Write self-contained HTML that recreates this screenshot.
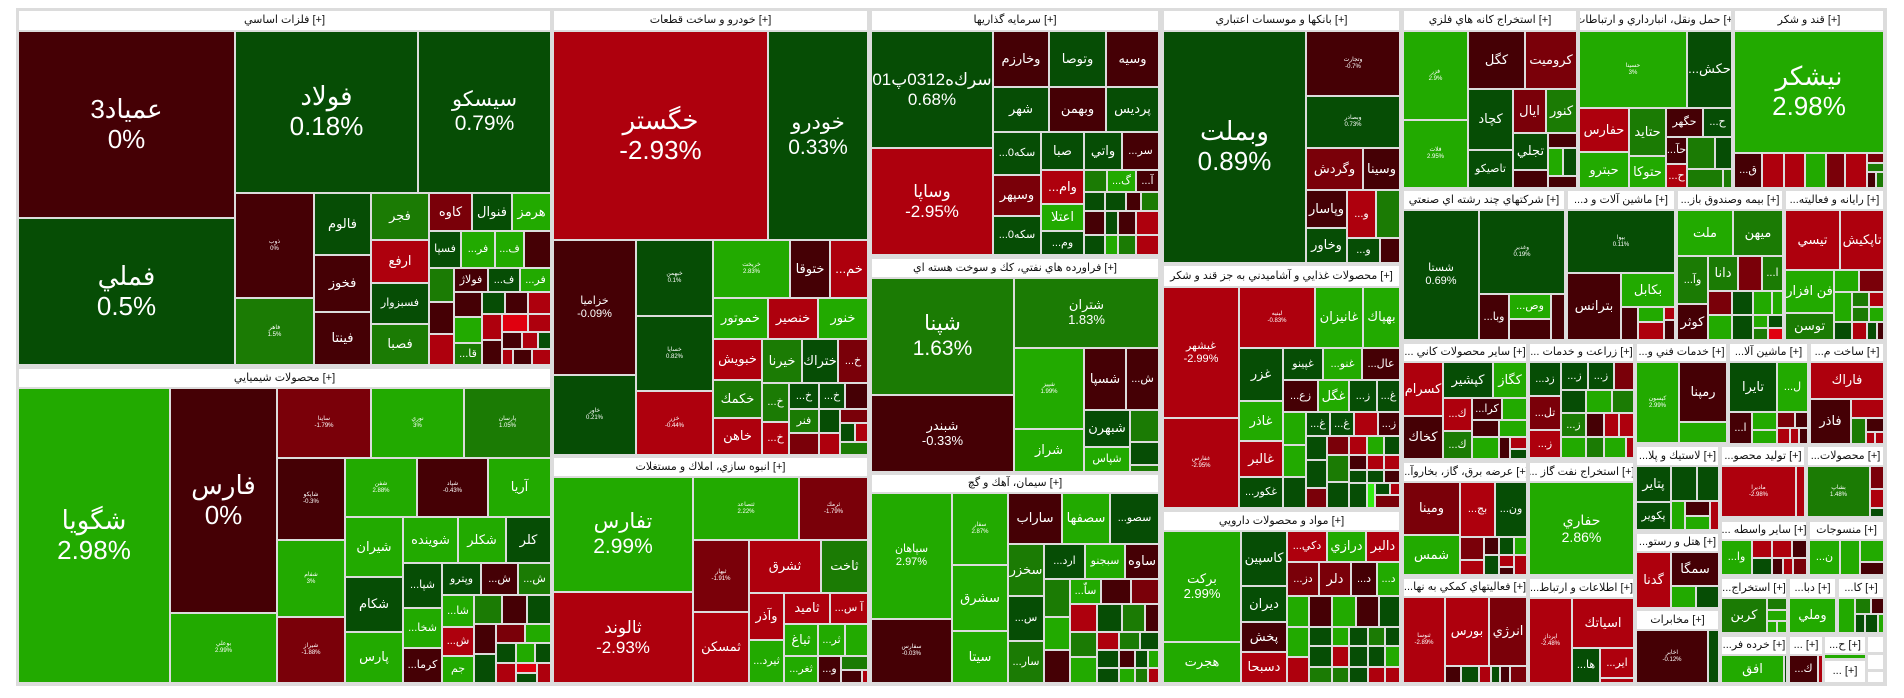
<!DOCTYPE html>
<html><head><meta charset="utf-8">
<style>
html,body{margin:0;padding:0;background:#fff;width:1904px;height:698px;overflow:hidden}
#w{position:absolute;left:16px;top:8px;width:1871px;height:678px;background:#dcdcdc}
div.c,div.h{position:absolute;box-sizing:border-box;border:1px solid #dcdcdc;display:flex;align-items:center;justify-content:center;text-align:center;overflow:hidden;white-space:nowrap;font-family:"Liberation Sans","DejaVu Sans",sans-serif;line-height:1.15}
div.c{color:#fff;font-size:13px}
div.h{background:#fff;color:#111;font-size:11px}
.a{background:#064d05}.b{background:#1b7b04}.g{background:#22aa00}.d{background:#450005}.m{background:#7a0009}.r{background:#ae000d}.x{background:#e0000f}.y{background:#33ee11}
.t{font-size:6px!important}.s{font-size:11px!important}.L{font-size:26px!important}.M{font-size:21px!important}.N{font-size:17px!important}
</style></head><body>
<div id="w"></div>
<!-- فلزات -->
<div class="h" style="left:18px;top:10px;width:533px;height:21px">فلزات اساسي [+]</div>
<div class="c d L" style="left:18px;top:31px;width:217px;height:187px">عمياد3<br>0%</div>
<div class="c a L" style="left:18px;top:218px;width:217px;height:147px">فملي<br>0.5%</div>
<div class="c a L" style="left:235px;top:31px;width:183px;height:162px">فولاد<br>0.18%</div>
<div class="c a M" style="left:418px;top:31px;width:133px;height:162px">سيسكو<br>0.79%</div>
<div class="c d t" style="left:235px;top:193px;width:79px;height:105px">ذوب<br>0%</div>
<div class="c b t" style="left:235px;top:298px;width:79px;height:67px">فاهر<br>1.5%</div>
<div class="c a" style="left:314px;top:193px;width:57px;height:62px">فالوم</div>
<div class="c d" style="left:314px;top:255px;width:57px;height:57px">فخوز</div>
<div class="c d" style="left:314px;top:312px;width:57px;height:53px">فينتا</div>
<div class="c b" style="left:371px;top:193px;width:58px;height:47px">فجر</div>
<div class="c r" style="left:371px;top:240px;width:58px;height:43px">ارفع</div>
<div class="c a s" style="left:371px;top:283px;width:58px;height:41px">فسبزوار</div>
<div class="c b" style="left:371px;top:324px;width:58px;height:41px">فصبا</div>
<div class="c m" style="left:429px;top:193px;width:43px;height:38px">كاوه</div>
<div class="c a" style="left:472px;top:193px;width:40px;height:38px">فنوال</div>
<div class="c g" style="left:512px;top:193px;width:39px;height:38px">هرمز</div>
<div class="c a s" style="left:429px;top:231px;width:32px;height:37px">فسپا</div>
<div class="c g s" style="left:461px;top:231px;width:34px;height:37px">...فر</div>
<div class="c g s" style="left:495px;top:231px;width:29px;height:37px">...ف</div>
<div class="c d" style="left:524px;top:231px;width:27px;height:37px"></div>
<div class="c b" style="left:429px;top:268px;width:25px;height:34px"></div>
<div class="c d" style="left:429px;top:302px;width:25px;height:32px"></div>
<div class="c r" style="left:429px;top:334px;width:25px;height:31px"></div>
<div class="c d s" style="left:454px;top:268px;width:34px;height:24px">فولاژ</div>
<div class="c a s" style="left:488px;top:268px;width:32px;height:24px">...ف</div>
<div class="c g s" style="left:520px;top:268px;width:31px;height:24px">...فر</div>
<div class="c d" style="left:454px;top:292px;width:28px;height:25px"></div>
<div class="c a" style="left:482px;top:292px;width:23px;height:22px"></div>
<div class="c d" style="left:505px;top:292px;width:23px;height:22px"></div>
<div class="c r" style="left:528px;top:292px;width:23px;height:22px"></div>
<div class="c g" style="left:454px;top:317px;width:28px;height:26px"></div>
<div class="c b s" style="left:454px;top:343px;width:28px;height:22px">...قا</div>
<div class="c r" style="left:482px;top:314px;width:20px;height:26px"></div>
<div class="c d" style="left:482px;top:340px;width:20px;height:25px"></div>
<div class="c x" style="left:502px;top:314px;width:26px;height:18px"></div>
<div class="c r" style="left:528px;top:314px;width:23px;height:18px"></div>
<div class="c d" style="left:502px;top:332px;width:20px;height:17px"></div>
<div class="c r" style="left:522px;top:332px;width:16px;height:17px"></div>
<div class="c a" style="left:538px;top:332px;width:13px;height:17px"></div>
<div class="c r" style="left:502px;top:349px;width:11px;height:16px"></div>
<div class="c d" style="left:513px;top:349px;width:19px;height:16px"></div>
<div class="c r" style="left:532px;top:349px;width:19px;height:16px"></div>
<!-- شیمیایی -->
<div class="h" style="left:18px;top:368px;width:533px;height:20px">محصولات شيميايي [+]</div>
<div class="c g L" style="left:18px;top:388px;width:152px;height:295px">شگويا<br>2.98%</div>
<div class="c d L" style="left:170px;top:388px;width:107px;height:225px">فارس<br>0%</div>
<div class="c g t" style="left:170px;top:613px;width:107px;height:70px">بوعلي<br>2.99%</div>
<div class="c m t" style="left:277px;top:388px;width:94px;height:70px">ساينا<br>-1.79%</div>
<div class="c g t" style="left:371px;top:388px;width:93px;height:70px">نوري<br>3%</div>
<div class="c b t" style="left:464px;top:388px;width:87px;height:70px">پارسان<br>1.05%</div>
<div class="c d t" style="left:277px;top:458px;width:68px;height:82px">شاپكو<br>-0.3%</div>
<div class="c g t" style="left:277px;top:540px;width:68px;height:77px">شفام<br>3%</div>
<div class="c m t" style="left:277px;top:617px;width:68px;height:66px">شيراز<br>-1.88%</div>
<div class="c g t" style="left:345px;top:458px;width:72px;height:59px">شفن<br>2.88%</div>
<div class="c d t" style="left:417px;top:458px;width:71px;height:59px">شپاد<br>-0.43%</div>
<div class="c g" style="left:488px;top:458px;width:63px;height:59px">آريا</div>
<div class="c g" style="left:345px;top:517px;width:58px;height:60px">شيران</div>
<div class="c a" style="left:345px;top:577px;width:58px;height:55px">شكام</div>
<div class="c g" style="left:345px;top:632px;width:58px;height:51px">پارس</div>
<div class="c g" style="left:403px;top:517px;width:55px;height:46px">شوينده</div>
<div class="c g" style="left:458px;top:517px;width:48px;height:46px">شكلر</div>
<div class="c a" style="left:506px;top:517px;width:45px;height:46px">كلر</div>
<div class="c a s" style="left:403px;top:563px;width:39px;height:45px">...شپا</div>
<div class="c g s" style="left:403px;top:608px;width:39px;height:40px">...شخا</div>
<div class="c d s" style="left:403px;top:648px;width:39px;height:35px">...كرما</div>
<div class="c a s" style="left:442px;top:563px;width:39px;height:32px">وپترو</div>
<div class="c d s" style="left:481px;top:563px;width:37px;height:32px">...ش</div>
<div class="c b s" style="left:518px;top:563px;width:33px;height:32px">...ش</div>
<div class="c g s" style="left:442px;top:595px;width:32px;height:32px">...شا</div>
<div class="c r s" style="left:442px;top:627px;width:32px;height:29px">...ش</div>
<div class="c g s" style="left:442px;top:656px;width:32px;height:27px">جم</div>
<div class="c b" style="left:474px;top:595px;width:28px;height:29px"></div>
<div class="c d" style="left:502px;top:595px;width:25px;height:29px"></div>
<div class="c a" style="left:527px;top:595px;width:24px;height:29px"></div>
<div class="c d" style="left:474px;top:624px;width:22px;height:30px"></div>
<div class="c m" style="left:496px;top:624px;width:29px;height:19px"></div>
<div class="c g" style="left:525px;top:624px;width:26px;height:19px"></div>
<div class="c a" style="left:474px;top:654px;width:22px;height:29px"></div>
<div class="c a" style="left:496px;top:643px;width:20px;height:20px"></div>
<div class="c g" style="left:516px;top:643px;width:19px;height:20px"></div>
<div class="c a" style="left:535px;top:643px;width:16px;height:20px"></div>
<div class="c r" style="left:496px;top:663px;width:20px;height:20px"></div>
<div class="c x" style="left:516px;top:663px;width:21px;height:10px"></div>
<div class="c a" style="left:516px;top:673px;width:21px;height:10px"></div>
<div class="c r" style="left:537px;top:663px;width:14px;height:20px"></div>
<!-- خودرو -->
<div class="h" style="left:553px;top:10px;width:315px;height:21px">خودرو و ساخت قطعات [+]</div>
<div class="c r L" style="left:553px;top:31px;width:215px;height:209px">خگستر<br>-2.93%</div>
<div class="c a M" style="left:768px;top:31px;width:100px;height:209px">خودرو<br>0.33%</div>
<div class="c d s" style="left:553px;top:240px;width:83px;height:135px">خزاميا<br>-0.09%</div>
<div class="c a t" style="left:553px;top:375px;width:83px;height:80px">خاور<br>0.21%</div>
<div class="c a t" style="left:636px;top:240px;width:77px;height:76px">خبهمن<br>0.1%</div>
<div class="c a t" style="left:636px;top:316px;width:77px;height:75px">خساپا<br>0.82%</div>
<div class="c r t" style="left:636px;top:391px;width:77px;height:64px">خزر<br>-0.44%</div>
<div class="c g t" style="left:713px;top:240px;width:77px;height:58px">خريخت<br>2.83%</div>
<div class="c d" style="left:790px;top:240px;width:40px;height:58px">ختوقا</div>
<div class="c r" style="left:830px;top:240px;width:38px;height:58px">...خم</div>
<div class="c g" style="left:713px;top:298px;width:55px;height:41px">خموتور</div>
<div class="c r" style="left:768px;top:298px;width:50px;height:41px">خنصير</div>
<div class="c g" style="left:818px;top:298px;width:50px;height:41px">خنور</div>
<div class="c r" style="left:713px;top:339px;width:49px;height:41px">خبويش</div>
<div class="c b" style="left:713px;top:380px;width:49px;height:38px">خكمك</div>
<div class="c r" style="left:713px;top:418px;width:49px;height:37px">خاهن</div>
<div class="c b" style="left:762px;top:339px;width:40px;height:44px">خيرنا</div>
<div class="c a" style="left:802px;top:339px;width:36px;height:44px">ختراك</div>
<div class="c m s" style="left:838px;top:339px;width:30px;height:44px">...خ</div>
<div class="c b s" style="left:762px;top:383px;width:27px;height:39px">...خ</div>
<div class="c r s" style="left:762px;top:422px;width:27px;height:33px">...خ</div>
<div class="c a s" style="left:789px;top:383px;width:30px;height:26px">...خ</div>
<div class="c b s" style="left:789px;top:409px;width:30px;height:24px">فنر</div>
<div class="c m" style="left:789px;top:433px;width:30px;height:22px"></div>
<div class="c a s" style="left:819px;top:383px;width:26px;height:26px">...خ</div>
<div class="c d" style="left:845px;top:383px;width:23px;height:26px"></div>
<div class="c a" style="left:819px;top:409px;width:21px;height:24px"></div>
<div class="c m" style="left:840px;top:409px;width:28px;height:14px"></div>
<div class="c a" style="left:840px;top:423px;width:15px;height:19px"></div>
<div class="c r" style="left:855px;top:423px;width:13px;height:19px"></div>
<div class="c r" style="left:819px;top:433px;width:21px;height:22px"></div>
<div class="c b" style="left:840px;top:442px;width:28px;height:13px"></div>
<!-- انبوه -->
<div class="h" style="left:553px;top:457px;width:315px;height:20px">انبوه سازي، املاك و مستغلات [+]</div>
<div class="c g M" style="left:553px;top:477px;width:140px;height:115px">تفارس<br>2.99%</div>
<div class="c r N" style="left:553px;top:592px;width:140px;height:91px">ثالوند<br>-2.93%</div>
<div class="c g t" style="left:693px;top:477px;width:106px;height:63px">ثتصاعد<br>2.22%</div>
<div class="c m t" style="left:799px;top:477px;width:69px;height:63px">ثرمك<br>-1.79%</div>
<div class="c m t" style="left:693px;top:540px;width:56px;height:72px">ثبهار<br>-1.91%</div>
<div class="c r" style="left:693px;top:612px;width:56px;height:71px">ثمسكن</div>
<div class="c r" style="left:749px;top:540px;width:72px;height:53px">ثشرق</div>
<div class="c b" style="left:821px;top:540px;width:47px;height:53px">ثاخت</div>
<div class="c r" style="left:749px;top:593px;width:35px;height:47px">وآذر</div>
<div class="c g s" style="left:749px;top:640px;width:35px;height:43px">...ثيرد</div>
<div class="c r" style="left:784px;top:593px;width:46px;height:31px">ثاميد</div>
<div class="c r s" style="left:830px;top:593px;width:38px;height:31px">...آ س</div>
<div class="c g" style="left:784px;top:624px;width:34px;height:32px">ثباغ</div>
<div class="c g s" style="left:784px;top:656px;width:34px;height:27px">...ثغر</div>
<div class="c g s" style="left:818px;top:624px;width:27px;height:32px">...ثر</div>
<div class="c g" style="left:845px;top:624px;width:23px;height:32px"></div>
<div class="c d s" style="left:818px;top:656px;width:23px;height:27px">...و</div>
<div class="c b" style="left:841px;top:656px;width:27px;height:14px"></div>
<div class="c d" style="left:841px;top:670px;width:21px;height:13px"></div>
<div class="c r" style="left:862px;top:670px;width:6px;height:13px"></div>
<!-- سرمایه -->
<div class="h" style="left:871px;top:10px;width:288px;height:21px">سرمايه گذاريها [+]</div>
<div class="c a N" style="left:871px;top:31px;width:122px;height:117px">سرك‌ه0312پ01<br>0.68%</div>
<div class="c r N" style="left:871px;top:148px;width:122px;height:107px">وساپا<br>-2.95%</div>
<div class="c d" style="left:993px;top:31px;width:56px;height:56px">وخارزم</div>
<div class="c a" style="left:1049px;top:31px;width:57px;height:56px">وتوصا</div>
<div class="c d" style="left:1106px;top:31px;width:53px;height:56px">وسيه</div>
<div class="c a" style="left:993px;top:87px;width:56px;height:45px">شهر</div>
<div class="c d" style="left:1049px;top:87px;width:57px;height:45px">وبهمن</div>
<div class="c a" style="left:1106px;top:87px;width:53px;height:45px">پرديس</div>
<div class="c a s" style="left:993px;top:132px;width:48px;height:43px">...سكه0</div>
<div class="c a" style="left:1041px;top:132px;width:43px;height:38px">صبا</div>
<div class="c a" style="left:1084px;top:132px;width:38px;height:38px">واتي</div>
<div class="c d s" style="left:1122px;top:132px;width:37px;height:38px">...سر</div>
<div class="c m" style="left:993px;top:175px;width:48px;height:41px">وسپهر</div>
<div class="c a s" style="left:993px;top:216px;width:48px;height:39px">...سكه0</div>
<div class="c r" style="left:1041px;top:170px;width:43px;height:34px">...وام</div>
<div class="c g" style="left:1041px;top:204px;width:43px;height:27px">اعتلا</div>
<div class="c a s" style="left:1041px;top:231px;width:43px;height:24px">...وم</div>
<div class="c b" style="left:1084px;top:170px;width:23px;height:22px"></div>
<div class="c g s" style="left:1107px;top:170px;width:29px;height:22px">...گ</div>
<div class="c d s" style="left:1136px;top:170px;width:23px;height:22px">...آ</div>
<div class="c a" style="left:1084px;top:192px;width:21px;height:19px"></div>
<div class="c a" style="left:1105px;top:192px;width:21px;height:19px"></div>
<div class="c d" style="left:1126px;top:192px;width:15px;height:19px"></div>
<div class="c b" style="left:1141px;top:192px;width:18px;height:19px"></div>
<div class="c d" style="left:1084px;top:211px;width:21px;height:24px"></div>
<div class="c a" style="left:1105px;top:211px;width:13px;height:24px"></div>
<div class="c d" style="left:1118px;top:211px;width:18px;height:24px"></div>
<div class="c r" style="left:1136px;top:211px;width:23px;height:24px"></div>
<div class="c a" style="left:1084px;top:235px;width:21px;height:20px"></div>
<div class="c g" style="left:1105px;top:235px;width:13px;height:20px"></div>
<div class="c b" style="left:1118px;top:235px;width:18px;height:20px"></div>
<div class="c r" style="left:1136px;top:235px;width:23px;height:20px"></div>
<!-- فراورده -->
<div class="h" style="left:871px;top:258px;width:288px;height:20px">فراورده هاي نفتي، كك و سوخت هسته اي [+]</div>
<div class="c b M" style="left:871px;top:278px;width:143px;height:117px">شپنا<br>1.63%</div>
<div class="c d" style="left:871px;top:395px;width:143px;height:77px">شبندر<br>-0.33%</div>
<div class="c b" style="left:1014px;top:278px;width:145px;height:70px">شتران<br>1.83%</div>
<div class="c g t" style="left:1014px;top:348px;width:70px;height:81px">شپيز<br>1.99%</div>
<div class="c g" style="left:1014px;top:429px;width:70px;height:43px">شراز</div>
<div class="c d" style="left:1084px;top:348px;width:42px;height:62px">شسپا</div>
<div class="c d s" style="left:1126px;top:348px;width:33px;height:62px">...ش</div>
<div class="c a" style="left:1084px;top:410px;width:46px;height:37px">شبهرن</div>
<div class="c g s" style="left:1084px;top:447px;width:46px;height:25px">شپاس</div>
<div class="c b" style="left:1130px;top:410px;width:29px;height:32px"></div>
<div class="c a" style="left:1130px;top:442px;width:29px;height:23px"></div>
<div class="c b" style="left:1130px;top:465px;width:29px;height:7px"></div>
<!-- سیمان -->
<div class="h" style="left:871px;top:474px;width:288px;height:19px">سيمان، آهك و گچ [+]</div>
<div class="c g s" style="left:871px;top:493px;width:81px;height:126px">سپاهان<br>2.97%</div>
<div class="c d t" style="left:871px;top:619px;width:81px;height:64px">سفارس<br>-0.03%</div>
<div class="c g t" style="left:952px;top:493px;width:56px;height:72px">سفار<br>2.87%</div>
<div class="c g" style="left:952px;top:565px;width:56px;height:66px">سشرق</div>
<div class="c g" style="left:952px;top:631px;width:56px;height:52px">سيتا</div>
<div class="c d" style="left:1008px;top:493px;width:54px;height:51px">ساراب</div>
<div class="c g" style="left:1062px;top:493px;width:48px;height:51px">سصفها</div>
<div class="c a s" style="left:1110px;top:493px;width:49px;height:51px">...سصو</div>
<div class="c b" style="left:1008px;top:544px;width:36px;height:52px">سخزر</div>
<div class="c a s" style="left:1008px;top:596px;width:36px;height:45px">...س</div>
<div class="c b s" style="left:1008px;top:641px;width:36px;height:42px">...سار</div>
<div class="c a s" style="left:1044px;top:544px;width:41px;height:35px">...ارد</div>
<div class="c g s" style="left:1085px;top:544px;width:40px;height:35px">سبجنو</div>
<div class="c d" style="left:1125px;top:544px;width:34px;height:35px">ساوه</div>
<div class="c b" style="left:1044px;top:579px;width:26px;height:38px"></div>
<div class="c g" style="left:1044px;top:617px;width:26px;height:33px"></div>
<div class="c d" style="left:1044px;top:650px;width:26px;height:33px"></div>
<div class="c g s" style="left:1070px;top:579px;width:31px;height:25px">...ساّ</div>
<div class="c d" style="left:1101px;top:579px;width:30px;height:25px"></div>
<div class="c m" style="left:1131px;top:579px;width:28px;height:25px"></div>
<div class="c r" style="left:1070px;top:604px;width:27px;height:28px"></div>
<div class="c a" style="left:1097px;top:604px;width:25px;height:28px"></div>
<div class="c b" style="left:1122px;top:604px;width:23px;height:28px"></div>
<div class="c d" style="left:1145px;top:604px;width:14px;height:28px"></div>
<div class="c b" style="left:1070px;top:632px;width:27px;height:25px"></div>
<div class="c r" style="left:1097px;top:632px;width:22px;height:18px"></div>
<div class="c b" style="left:1119px;top:632px;width:21px;height:18px"></div>
<div class="c a" style="left:1140px;top:632px;width:19px;height:18px"></div>
<div class="c g" style="left:1070px;top:657px;width:27px;height:26px"></div>
<div class="c a" style="left:1097px;top:650px;width:22px;height:18px"></div>
<div class="c d" style="left:1119px;top:650px;width:16px;height:18px"></div>
<div class="c a" style="left:1135px;top:650px;width:13px;height:18px"></div>
<div class="c g" style="left:1148px;top:650px;width:11px;height:18px"></div>
<div class="c a" style="left:1097px;top:668px;width:22px;height:15px"></div>
<div class="c g" style="left:1119px;top:668px;width:16px;height:15px"></div>
<div class="c b" style="left:1135px;top:668px;width:13px;height:15px"></div>
<div class="c r" style="left:1148px;top:668px;width:11px;height:15px"></div>
<!-- بانک -->
<div class="h" style="left:1163px;top:10px;width:237px;height:21px">بانكها و موسسات اعتباري [+]</div>
<div class="c a L" style="left:1163px;top:31px;width:143px;height:232px">وبملت<br>0.89%</div>
<div class="c d t" style="left:1306px;top:31px;width:94px;height:65px">وتجارت<br>-0.7%</div>
<div class="c a t" style="left:1306px;top:96px;width:94px;height:52px">وبصادر<br>0.73%</div>
<div class="c m" style="left:1306px;top:148px;width:57px;height:42px">وگردش</div>
<div class="c d" style="left:1363px;top:148px;width:37px;height:42px">وسينا</div>
<div class="c d" style="left:1306px;top:190px;width:41px;height:38px">وپاسار</div>
<div class="c a" style="left:1306px;top:228px;width:41px;height:35px">وخاور</div>
<div class="c r s" style="left:1347px;top:190px;width:29px;height:48px">...و</div>
<div class="c b" style="left:1376px;top:190px;width:24px;height:48px"></div>
<div class="c a s" style="left:1347px;top:238px;width:33px;height:25px">...و</div>
<div class="c d" style="left:1380px;top:238px;width:20px;height:25px"></div>
<!-- غذایی -->
<div class="h" style="left:1163px;top:265px;width:237px;height:22px">محصولات غذايي و آشاميدني به جز قند و شكر [+]</div>
<div class="c r s" style="left:1163px;top:287px;width:76px;height:131px">غبشهر<br>-2.99%</div>
<div class="c r t" style="left:1163px;top:418px;width:76px;height:90px">غفارس<br>-2.95%</div>
<div class="c r t" style="left:1239px;top:287px;width:76px;height:61px">لبنيه<br>-0.83%</div>
<div class="c g" style="left:1315px;top:287px;width:48px;height:61px">غانيزان</div>
<div class="c g" style="left:1363px;top:287px;width:37px;height:61px">بهپاك</div>
<div class="c a" style="left:1239px;top:348px;width:44px;height:53px">غزر</div>
<div class="c g" style="left:1239px;top:401px;width:44px;height:40px">غاذر</div>
<div class="c r" style="left:1239px;top:441px;width:44px;height:36px">غالبر</div>
<div class="c a s" style="left:1239px;top:477px;width:44px;height:31px">...غكور</div>
<div class="c a s" style="left:1283px;top:348px;width:40px;height:32px">غپينو</div>
<div class="c g s" style="left:1323px;top:348px;width:39px;height:32px">...غنو</div>
<div class="c d s" style="left:1362px;top:348px;width:38px;height:32px">...عال</div>
<div class="c d s" style="left:1283px;top:380px;width:35px;height:32px">...زع</div>
<div class="c g" style="left:1318px;top:380px;width:31px;height:32px">غگل</div>
<div class="c a s" style="left:1349px;top:380px;width:28px;height:32px">...ز</div>
<div class="c a s" style="left:1377px;top:380px;width:23px;height:32px">...غ</div>
<div class="c g" style="left:1283px;top:412px;width:23px;height:33px"></div>
<div class="c g" style="left:1283px;top:445px;width:23px;height:32px"></div>
<div class="c a" style="left:1283px;top:477px;width:23px;height:31px"></div>
<div class="c a s" style="left:1306px;top:412px;width:24px;height:24px">...غ</div>
<div class="c a s" style="left:1330px;top:412px;width:24px;height:24px">...غ</div>
<div class="c r" style="left:1354px;top:412px;width:24px;height:24px"></div>
<div class="c d s" style="left:1378px;top:412px;width:22px;height:24px">...ز</div>
<div class="c a" style="left:1306px;top:436px;width:21px;height:24px"></div>
<div class="c m" style="left:1327px;top:436px;width:22px;height:19px"></div>
<div class="c r" style="left:1349px;top:436px;width:18px;height:19px"></div>
<div class="c g" style="left:1367px;top:436px;width:17px;height:19px"></div>
<div class="c a" style="left:1384px;top:436px;width:16px;height:19px"></div>
<div class="c a" style="left:1306px;top:460px;width:21px;height:28px"></div>
<div class="c b" style="left:1327px;top:455px;width:22px;height:27px"></div>
<div class="c d" style="left:1349px;top:455px;width:18px;height:15px"></div>
<div class="c r" style="left:1367px;top:455px;width:17px;height:15px"></div>
<div class="c r" style="left:1384px;top:455px;width:16px;height:15px"></div>
<div class="c a" style="left:1349px;top:470px;width:18px;height:13px"></div>
<div class="c a" style="left:1367px;top:470px;width:17px;height:13px"></div>
<div class="c d" style="left:1384px;top:470px;width:16px;height:13px"></div>
<div class="c m" style="left:1306px;top:488px;width:21px;height:20px"></div>
<div class="c a" style="left:1327px;top:482px;width:22px;height:26px"></div>
<div class="c a" style="left:1349px;top:483px;width:18px;height:25px"></div>
<div class="c y" style="left:1367px;top:483px;width:8px;height:25px"></div>
<div class="c a" style="left:1375px;top:483px;width:15px;height:12px"></div>
<div class="c r" style="left:1390px;top:483px;width:10px;height:12px"></div>
<div class="c m" style="left:1375px;top:495px;width:25px;height:13px"></div>
<!-- دارویی -->
<div class="h" style="left:1163px;top:511px;width:237px;height:20px">مواد و محصولات دارويي [+]</div>
<div class="c g" style="left:1163px;top:531px;width:78px;height:111px">بركت<br>2.99%</div>
<div class="c g" style="left:1163px;top:642px;width:78px;height:41px">هجرت</div>
<div class="c a" style="left:1241px;top:531px;width:46px;height:55px">كاسپين</div>
<div class="c a" style="left:1241px;top:586px;width:46px;height:36px">ديران</div>
<div class="c d" style="left:1241px;top:622px;width:46px;height:30px">پخش</div>
<div class="c r" style="left:1241px;top:652px;width:46px;height:31px">دسبحا</div>
<div class="c r s" style="left:1287px;top:531px;width:40px;height:31px">...دكي</div>
<div class="c g" style="left:1327px;top:531px;width:39px;height:31px">درازي</div>
<div class="c r" style="left:1366px;top:531px;width:34px;height:31px">دالبر</div>
<div class="c m s" style="left:1287px;top:562px;width:32px;height:34px">...دز</div>
<div class="c m" style="left:1319px;top:562px;width:32px;height:34px">دلر</div>
<div class="c d s" style="left:1351px;top:562px;width:26px;height:34px">...د</div>
<div class="c g s" style="left:1377px;top:562px;width:23px;height:34px">...د</div>
<div class="c g" style="left:1287px;top:596px;width:22px;height:31px"></div>
<div class="c d" style="left:1309px;top:596px;width:23px;height:31px"></div>
<div class="c g" style="left:1332px;top:596px;width:24px;height:31px"></div>
<div class="c d" style="left:1356px;top:596px;width:23px;height:31px"></div>
<div class="c a" style="left:1379px;top:596px;width:21px;height:31px"></div>
<div class="c g" style="left:1287px;top:627px;width:22px;height:30px"></div>
<div class="c a" style="left:1309px;top:627px;width:23px;height:19px"></div>
<div class="c g" style="left:1332px;top:627px;width:17px;height:19px"></div>
<div class="c a" style="left:1349px;top:627px;width:19px;height:19px"></div>
<div class="c b" style="left:1368px;top:627px;width:17px;height:19px"></div>
<div class="c a" style="left:1385px;top:627px;width:15px;height:19px"></div>
<div class="c a" style="left:1309px;top:646px;width:23px;height:21px"></div>
<div class="c r" style="left:1332px;top:646px;width:17px;height:21px"></div>
<div class="c a" style="left:1349px;top:646px;width:19px;height:21px"></div>
<div class="c a" style="left:1368px;top:646px;width:17px;height:21px"></div>
<div class="c g" style="left:1385px;top:646px;width:15px;height:21px"></div>
<div class="c r" style="left:1287px;top:657px;width:22px;height:26px"></div>
<div class="c b" style="left:1309px;top:667px;width:23px;height:16px"></div>
<div class="c b" style="left:1332px;top:667px;width:17px;height:16px"></div>
<div class="c a" style="left:1349px;top:667px;width:19px;height:16px"></div>
<div class="c r" style="left:1368px;top:667px;width:17px;height:16px"></div>
<div class="c r" style="left:1385px;top:667px;width:15px;height:16px"></div>
<!-- کانه -->
<div class="h" style="left:1403px;top:10px;width:174px;height:21px">استخراج كانه هاي فلزي [+]</div>
<div class="c g t" style="left:1403px;top:31px;width:65px;height:89px">فزر<br>2.9%</div>
<div class="c g t" style="left:1403px;top:120px;width:65px;height:68px">فلات<br>2.95%</div>
<div class="c d" style="left:1468px;top:31px;width:57px;height:58px">كگل</div>
<div class="c m" style="left:1525px;top:31px;width:52px;height:58px">كروميت</div>
<div class="c a" style="left:1468px;top:89px;width:45px;height:61px">كچاد</div>
<div class="c a s" style="left:1468px;top:150px;width:45px;height:38px">تاصيكو</div>
<div class="c m" style="left:1513px;top:89px;width:33px;height:44px">ايال</div>
<div class="c b" style="left:1546px;top:89px;width:31px;height:44px">كنور</div>
<div class="c a" style="left:1513px;top:133px;width:35px;height:37px">تجلي</div>
<div class="c d" style="left:1513px;top:170px;width:35px;height:18px"></div>
<div class="c d" style="left:1548px;top:133px;width:29px;height:15px"></div>
<div class="c g" style="left:1548px;top:148px;width:15px;height:28px"></div>
<div class="c a" style="left:1563px;top:148px;width:14px;height:28px"></div>
<div class="c d" style="left:1548px;top:176px;width:29px;height:12px"></div>
<!-- حمل -->
<div class="h" style="left:1579px;top:10px;width:153px;height:21px">حمل ونقل، انبارداري و ارتباطات [+]</div>
<div class="c g t" style="left:1579px;top:31px;width:108px;height:77px">حسينا<br>3%</div>
<div class="c a" style="left:1687px;top:31px;width:45px;height:77px">...حكش</div>
<div class="c r" style="left:1579px;top:108px;width:50px;height:44px">حفارس</div>
<div class="c b" style="left:1629px;top:108px;width:37px;height:48px">حتايد</div>
<div class="c g" style="left:1579px;top:152px;width:50px;height:36px">حبترو</div>
<div class="c g" style="left:1629px;top:156px;width:37px;height:32px">حتوكا</div>
<div class="c d s" style="left:1666px;top:108px;width:37px;height:29px">حگهر</div>
<div class="c a s" style="left:1703px;top:108px;width:29px;height:29px">...ح</div>
<div class="c d s" style="left:1666px;top:137px;width:21px;height:27px">...حآ</div>
<div class="c r s" style="left:1666px;top:164px;width:21px;height:24px">...ح</div>
<div class="c b" style="left:1687px;top:137px;width:28px;height:32px"></div>
<div class="c a" style="left:1715px;top:137px;width:17px;height:32px"></div>
<div class="c b" style="left:1687px;top:169px;width:36px;height:19px"></div>
<div class="c b" style="left:1723px;top:169px;width:9px;height:19px"></div>
<!-- قند -->
<div class="h" style="left:1734px;top:10px;width:150px;height:21px">قند و شكر [+]</div>
<div class="c g L" style="left:1734px;top:31px;width:150px;height:122px">نيشكر<br>2.98%</div>
<div class="c d s" style="left:1734px;top:153px;width:28px;height:35px">...ق</div>
<div class="c r" style="left:1762px;top:153px;width:22px;height:35px"></div>
<div class="c r" style="left:1784px;top:153px;width:21px;height:35px"></div>
<div class="c g" style="left:1805px;top:153px;width:21px;height:35px"></div>
<div class="c m" style="left:1826px;top:153px;width:19px;height:35px"></div>
<div class="c r" style="left:1845px;top:153px;width:22px;height:35px"></div>
<div class="c m" style="left:1867px;top:153px;width:17px;height:10px"></div>
<div class="c b" style="left:1867px;top:163px;width:17px;height:9px"></div>
<div class="c d" style="left:1867px;top:172px;width:9px;height:16px"></div>
<div class="c b" style="left:1876px;top:172px;width:8px;height:16px"></div>
<!-- چند رشته -->
<div class="h" style="left:1403px;top:190px;width:162px;height:20px">شركتهاي چند رشته اي صنعتي [+]</div>
<div class="c a s" style="left:1403px;top:210px;width:76px;height:130px">شستا<br>0.69%</div>
<div class="c a t" style="left:1479px;top:210px;width:86px;height:84px">وغدير<br>0.19%</div>
<div class="c d s" style="left:1479px;top:294px;width:30px;height:46px">...وبا</div>
<div class="c g s" style="left:1509px;top:294px;width:42px;height:25px">...وص</div>
<div class="c d" style="left:1509px;top:319px;width:42px;height:21px"></div>
<div class="c d" style="left:1551px;top:294px;width:14px;height:46px"></div>
<!-- ماشین -->
<div class="h" style="left:1567px;top:190px;width:108px;height:20px">...ماشين آلات و د [+]</div>
<div class="c a t" style="left:1567px;top:210px;width:108px;height:63px">بپوا<br>0.11%</div>
<div class="c d" style="left:1567px;top:273px;width:54px;height:67px">بترانس</div>
<div class="c g" style="left:1621px;top:273px;width:54px;height:34px">بكابل</div>
<div class="c d" style="left:1621px;top:307px;width:17px;height:33px"></div>
<div class="c g" style="left:1638px;top:307px;width:26px;height:15px"></div>
<div class="c r" style="left:1638px;top:322px;width:26px;height:18px"></div>
<div class="c r" style="left:1664px;top:307px;width:11px;height:13px"></div>
<div class="c d" style="left:1664px;top:320px;width:11px;height:20px"></div>
<!-- بیمه -->
<div class="h" style="left:1677px;top:190px;width:106px;height:20px">...بيمه وصندوق باز [+]</div>
<div class="c g" style="left:1677px;top:210px;width:56px;height:46px">ملت</div>
<div class="c b" style="left:1733px;top:210px;width:50px;height:46px">ميهن</div>
<div class="c b s" style="left:1677px;top:256px;width:31px;height:48px">...وآ</div>
<div class="c d" style="left:1677px;top:304px;width:31px;height:36px">كوثر</div>
<div class="c b" style="left:1708px;top:256px;width:30px;height:35px">دانا</div>
<div class="c m" style="left:1738px;top:256px;width:24px;height:35px"></div>
<div class="c b s" style="left:1762px;top:256px;width:21px;height:35px">...ا</div>
<div class="c m" style="left:1708px;top:291px;width:24px;height:24px"></div>
<div class="c a" style="left:1732px;top:291px;width:21px;height:24px"></div>
<div class="c g" style="left:1753px;top:291px;width:19px;height:24px"></div>
<div class="c g" style="left:1772px;top:291px;width:11px;height:24px"></div>
<div class="c g" style="left:1708px;top:315px;width:24px;height:25px"></div>
<div class="c a" style="left:1732px;top:315px;width:21px;height:25px"></div>
<div class="c g" style="left:1753px;top:315px;width:15px;height:13px"></div>
<div class="c a" style="left:1768px;top:315px;width:15px;height:13px"></div>
<div class="c b" style="left:1753px;top:328px;width:15px;height:12px"></div>
<div class="c x" style="left:1768px;top:328px;width:15px;height:12px"></div>
<!-- رایانه -->
<div class="h" style="left:1785px;top:190px;width:99px;height:20px">...رايانه و فعاليته [+]</div>
<div class="c r" style="left:1785px;top:210px;width:55px;height:60px">تيسي</div>
<div class="c r" style="left:1840px;top:210px;width:44px;height:60px">تاپكيش</div>
<div class="c g" style="left:1785px;top:270px;width:49px;height:43px">فن افزار</div>
<div class="c b" style="left:1785px;top:313px;width:49px;height:27px">توسن</div>
<div class="c g" style="left:1834px;top:270px;width:25px;height:22px"></div>
<div class="c m" style="left:1859px;top:270px;width:25px;height:22px"></div>
<div class="c g" style="left:1834px;top:292px;width:18px;height:30px"></div>
<div class="c b" style="left:1852px;top:292px;width:17px;height:15px"></div>
<div class="c b" style="left:1852px;top:307px;width:17px;height:15px"></div>
<div class="c r" style="left:1869px;top:292px;width:15px;height:15px"></div>
<div class="c g" style="left:1869px;top:307px;width:15px;height:15px"></div>
<div class="c a" style="left:1834px;top:322px;width:18px;height:18px"></div>
<div class="c r" style="left:1852px;top:322px;width:15px;height:18px"></div>
<div class="c a" style="left:1867px;top:322px;width:10px;height:18px"></div>
<div class="c d" style="left:1877px;top:322px;width:7px;height:18px"></div>
<!-- کانی -->
<div class="h" style="left:1403px;top:343px;width:124px;height:19px">... ساير محصولات كاني [+]</div>
<div class="c r" style="left:1403px;top:362px;width:40px;height:54px">كسرام</div>
<div class="c d" style="left:1403px;top:416px;width:40px;height:43px">كخاك</div>
<div class="c a" style="left:1443px;top:362px;width:50px;height:36px">كپشير</div>
<div class="c g" style="left:1493px;top:362px;width:34px;height:36px">كگاز</div>
<div class="c r s" style="left:1443px;top:398px;width:29px;height:33px">...ك</div>
<div class="c b s" style="left:1443px;top:431px;width:29px;height:28px">...ك</div>
<div class="c d s" style="left:1472px;top:398px;width:30px;height:22px">...كرا</div>
<div class="c g" style="left:1502px;top:398px;width:25px;height:22px"></div>
<div class="c d" style="left:1472px;top:420px;width:27px;height:17px"></div>
<div class="c g" style="left:1499px;top:420px;width:28px;height:17px"></div>
<div class="c g" style="left:1472px;top:437px;width:27px;height:22px"></div>
<div class="c d" style="left:1499px;top:437px;width:11px;height:22px"></div>
<div class="c r" style="left:1510px;top:437px;width:17px;height:12px"></div>
<div class="c a" style="left:1510px;top:449px;width:17px;height:10px"></div>
<!-- برق -->
<div class="h" style="left:1403px;top:462px;width:124px;height:20px">...عرضه برق، گاز، بخاروآ [+]</div>
<div class="c m" style="left:1403px;top:482px;width:57px;height:53px">ومينا</div>
<div class="c g" style="left:1403px;top:535px;width:57px;height:40px">شمس</div>
<div class="c r s" style="left:1460px;top:482px;width:35px;height:55px">...بج</div>
<div class="c a s" style="left:1495px;top:482px;width:32px;height:55px">...ون</div>
<div class="c m" style="left:1460px;top:537px;width:24px;height:23px"></div>
<div class="c d" style="left:1484px;top:537px;width:15px;height:18px"></div>
<div class="c a" style="left:1499px;top:537px;width:15px;height:18px"></div>
<div class="c g" style="left:1514px;top:537px;width:13px;height:18px"></div>
<div class="c r" style="left:1460px;top:560px;width:24px;height:15px"></div>
<div class="c a" style="left:1484px;top:555px;width:15px;height:20px"></div>
<div class="c r" style="left:1499px;top:555px;width:15px;height:12px"></div>
<div class="c d" style="left:1499px;top:567px;width:15px;height:8px"></div>
<div class="c r" style="left:1514px;top:555px;width:13px;height:20px"></div>
<!-- کمکی -->
<div class="h" style="left:1403px;top:578px;width:124px;height:19px">...فعاليتهاي كمكي به نها [+]</div>
<div class="c r t" style="left:1403px;top:597px;width:42px;height:86px">ثنوسا<br>-2.89%</div>
<div class="c r" style="left:1445px;top:597px;width:44px;height:69px">بورس</div>
<div class="c m" style="left:1489px;top:597px;width:38px;height:69px">انرژي</div>
<div class="c d" style="left:1445px;top:666px;width:16px;height:17px"></div>
<div class="c a" style="left:1461px;top:666px;width:18px;height:17px"></div>
<div class="c r" style="left:1479px;top:666px;width:12px;height:17px"></div>
<div class="c a" style="left:1491px;top:666px;width:9px;height:17px"></div>
<div class="c d" style="left:1500px;top:666px;width:10px;height:17px"></div>
<div class="c m" style="left:1510px;top:666px;width:17px;height:17px"></div>
<!-- زراعت -->
<div class="h" style="left:1529px;top:343px;width:105px;height:19px">... زراعت و خدمات [+]</div>
<div class="c a s" style="left:1529px;top:362px;width:32px;height:34px">...زد</div>
<div class="c a s" style="left:1561px;top:362px;width:27px;height:28px">...ز</div>
<div class="c a s" style="left:1588px;top:362px;width:26px;height:28px">...ز</div>
<div class="c m" style="left:1614px;top:362px;width:20px;height:28px"></div>
<div class="c m s" style="left:1529px;top:396px;width:32px;height:34px">...تل</div>
<div class="c r s" style="left:1529px;top:430px;width:32px;height:28px">...ز</div>
<div class="c a" style="left:1561px;top:390px;width:25px;height:23px"></div>
<div class="c g" style="left:1586px;top:390px;width:26px;height:23px"></div>
<div class="c b" style="left:1612px;top:390px;width:22px;height:23px"></div>
<div class="c b s" style="left:1561px;top:413px;width:25px;height:24px">...ز</div>
<div class="c d" style="left:1586px;top:413px;width:18px;height:24px"></div>
<div class="c r" style="left:1604px;top:413px;width:15px;height:24px"></div>
<div class="c r" style="left:1619px;top:413px;width:15px;height:24px"></div>
<div class="c g" style="left:1561px;top:437px;width:25px;height:21px"></div>
<div class="c b" style="left:1586px;top:437px;width:18px;height:21px"></div>
<div class="c g" style="left:1604px;top:437px;width:22px;height:21px"></div>
<div class="c r" style="left:1626px;top:437px;width:8px;height:21px"></div>
<!-- نفت -->
<div class="h" style="left:1529px;top:462px;width:105px;height:20px">... استخراج نفت گاز [+]</div>
<div class="c g" style="left:1529px;top:482px;width:105px;height:93px;font-size:14px">حفاري<br>2.86%</div>
<!-- اطلاعات -->
<div class="h" style="left:1529px;top:578px;width:105px;height:20px">...اطلاعات و ارتباط [+]</div>
<div class="c r t" style="left:1529px;top:598px;width:43px;height:85px">اپرداز<br>-2.48%</div>
<div class="c r" style="left:1572px;top:598px;width:62px;height:50px">اسياتك</div>
<div class="c a s" style="left:1572px;top:648px;width:28px;height:35px">...ها</div>
<div class="c r s" style="left:1600px;top:648px;width:34px;height:30px">...اير</div>
<div class="c r" style="left:1600px;top:678px;width:34px;height:5px"></div>
<!-- خدمات فنی -->
<div class="h" style="left:1636px;top:343px;width:91px;height:19px">...خدمات فني و [+]</div>
<div class="c g t" style="left:1636px;top:362px;width:43px;height:81px">كيسون<br>2.99%</div>
<div class="c d" style="left:1679px;top:362px;width:48px;height:60px">رمپنا</div>
<div class="c g" style="left:1679px;top:422px;width:48px;height:21px"></div>
<!-- لاستیک -->
<div class="h" style="left:1636px;top:446px;width:83px;height:20px">...لاستيك و پلا [+]</div>
<div class="c a" style="left:1636px;top:466px;width:35px;height:36px">پتاير</div>
<div class="c a s" style="left:1636px;top:502px;width:35px;height:28px">پكوير</div>
<div class="c a" style="left:1671px;top:466px;width:26px;height:35px"></div>
<div class="c a" style="left:1697px;top:466px;width:22px;height:35px"></div>
<div class="c g" style="left:1671px;top:501px;width:14px;height:29px"></div>
<div class="c d" style="left:1685px;top:501px;width:25px;height:15px"></div>
<div class="c g" style="left:1685px;top:516px;width:25px;height:14px"></div>
<div class="c r" style="left:1710px;top:501px;width:9px;height:29px"></div>
<!-- هتل -->
<div class="h" style="left:1636px;top:533px;width:83px;height:19px">...هتل و رستو [+]</div>
<div class="c r" style="left:1636px;top:552px;width:35px;height:56px">گدنا</div>
<div class="c d" style="left:1671px;top:552px;width:48px;height:34px">سمگا</div>
<div class="c g" style="left:1671px;top:586px;width:25px;height:22px"></div>
<div class="c a" style="left:1696px;top:586px;width:23px;height:22px"></div>
<!-- مخابرات -->
<div class="h" style="left:1636px;top:610px;width:83px;height:20px">مخابرات [+]</div>
<div class="c d t" style="left:1636px;top:630px;width:72px;height:53px">اخابر<br>-0.12%</div>
<div class="c a" style="left:1708px;top:630px;width:11px;height:53px"></div>
<!-- ماشین آلا -->
<div class="h" style="left:1729px;top:343px;width:79px;height:19px">...ماشين آلا [+]</div>
<div class="c a" style="left:1729px;top:362px;width:48px;height:50px">تايرا</div>
<div class="c g s" style="left:1777px;top:362px;width:31px;height:50px">...ل</div>
<div class="c d s" style="left:1729px;top:412px;width:23px;height:32px">...ا</div>
<div class="c g" style="left:1752px;top:412px;width:25px;height:18px"></div>
<div class="c g" style="left:1752px;top:430px;width:25px;height:14px"></div>
<div class="c m" style="left:1777px;top:412px;width:18px;height:16px"></div>
<div class="c d" style="left:1795px;top:412px;width:13px;height:16px"></div>
<div class="c r" style="left:1777px;top:428px;width:13px;height:16px"></div>
<div class="c r" style="left:1790px;top:428px;width:9px;height:16px"></div>
<div class="c d" style="left:1799px;top:428px;width:9px;height:16px"></div>
<!-- ساخت م -->
<div class="h" style="left:1810px;top:343px;width:74px;height:19px">...ساخت م [+]</div>
<div class="c r" style="left:1810px;top:362px;width:74px;height:37px">فاراك</div>
<div class="c d" style="left:1810px;top:399px;width:41px;height:45px">فاذر</div>
<div class="c r" style="left:1851px;top:399px;width:33px;height:19px"></div>
<div class="c b" style="left:1851px;top:418px;width:15px;height:26px"></div>
<div class="c d" style="left:1866px;top:418px;width:18px;height:14px"></div>
<div class="c r" style="left:1866px;top:432px;width:9px;height:12px"></div>
<div class="c r" style="left:1875px;top:432px;width:9px;height:12px"></div>
<!-- تولید -->
<div class="h" style="left:1721px;top:446px;width:84px;height:20px">...توليد محصو [+]</div>
<div class="c r t" style="left:1721px;top:466px;width:75px;height:51px">ماديرا<br>-2.98%</div>
<div class="c r" style="left:1796px;top:466px;width:9px;height:51px"></div>
<div class="h" style="left:1807px;top:446px;width:77px;height:20px">...محصولات [+]</div>
<div class="c b t" style="left:1807px;top:466px;width:63px;height:51px">بشاپ<br>1.48%</div>
<div class="c m" style="left:1870px;top:466px;width:14px;height:23px"></div>
<div class="c r" style="left:1870px;top:489px;width:14px;height:19px"></div>
<div class="c a" style="left:1870px;top:508px;width:14px;height:9px"></div>
<!-- واسطه -->
<div class="h" style="left:1721px;top:521px;width:86px;height:19px">... ساير واسطه [+]</div>
<div class="c g s" style="left:1721px;top:540px;width:31px;height:35px">...وا</div>
<div class="c r" style="left:1752px;top:540px;width:20px;height:18px"></div>
<div class="c r" style="left:1772px;top:540px;width:20px;height:18px"></div>
<div class="c d" style="left:1792px;top:540px;width:15px;height:18px"></div>
<div class="c a" style="left:1752px;top:558px;width:20px;height:17px"></div>
<div class="c d" style="left:1772px;top:558px;width:11px;height:17px"></div>
<div class="c r" style="left:1783px;top:558px;width:10px;height:17px"></div>
<div class="c m" style="left:1793px;top:558px;width:14px;height:17px"></div>
<div class="h" style="left:1809px;top:521px;width:75px;height:19px">منسوجات [+]</div>
<div class="c g s" style="left:1809px;top:540px;width:31px;height:35px">...ن</div>
<div class="c g" style="left:1840px;top:540px;width:20px;height:35px"></div>
<div class="c g" style="left:1860px;top:540px;width:24px;height:22px"></div>
<div class="c d" style="left:1860px;top:562px;width:24px;height:13px"></div>
<!-- استخراج/دبا/کا -->
<div class="h" style="left:1721px;top:578px;width:66px;height:20px">...استخراج [+]</div>
<div class="c b" style="left:1721px;top:598px;width:46px;height:35px">كربن</div>
<div class="c b" style="left:1767px;top:598px;width:20px;height:12px"></div>
<div class="c g" style="left:1767px;top:610px;width:20px;height:11px"></div>
<div class="c g" style="left:1767px;top:621px;width:10px;height:12px"></div>
<div class="c g" style="left:1777px;top:621px;width:10px;height:12px"></div>
<div class="h" style="left:1789px;top:578px;width:47px;height:20px">...دبا [+]</div>
<div class="c g" style="left:1789px;top:598px;width:47px;height:35px">وملي</div>
<div class="h" style="left:1838px;top:578px;width:46px;height:20px">...كا [+]</div>
<div class="c g" style="left:1838px;top:598px;width:17px;height:35px"></div>
<div class="c b" style="left:1855px;top:598px;width:16px;height:16px"></div>
<div class="c d" style="left:1871px;top:598px;width:13px;height:16px"></div>
<div class="c a" style="left:1855px;top:614px;width:10px;height:19px"></div>
<div class="c a" style="left:1865px;top:614px;width:13px;height:19px"></div>
<div class="c g" style="left:1878px;top:614px;width:6px;height:19px"></div>
<!-- last row -->
<div class="h" style="left:1721px;top:636px;width:66px;height:19px">...خرده فر [+]</div>
<div class="c g" style="left:1721px;top:655px;width:63px;height:28px">افق</div>
<div class="c a" style="left:1784px;top:655px;width:3px;height:28px"></div>
<div class="h" style="left:1789px;top:636px;width:34px;height:19px">... [+]</div>
<div class="c d s" style="left:1789px;top:655px;width:29px;height:28px">...ك</div>
<div class="c r" style="left:1818px;top:655px;width:5px;height:28px"></div>
<div class="h" style="left:1824px;top:636px;width:42px;height:18px">...ح [+]</div>
<div class="c g" style="left:1824px;top:654px;width:42px;height:5px"></div>
<div class="h" style="left:1824px;top:660px;width:42px;height:23px">... [+]</div>
<div class="h" style="left:1867px;top:636px;width:17px;height:17px"></div>
<div class="h" style="left:1867px;top:654px;width:17px;height:16px"></div>
<div class="h" style="left:1867px;top:671px;width:17px;height:12px"></div>
</body></html>
